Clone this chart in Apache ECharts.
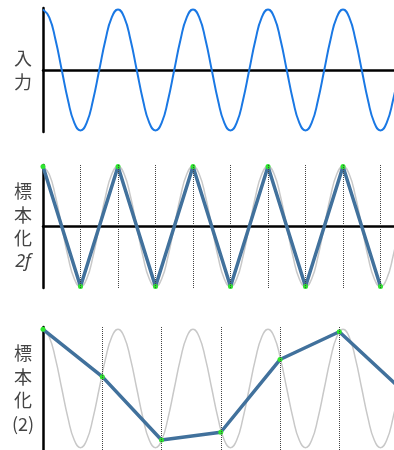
<!DOCTYPE html>
<html>
<head>
<meta charset="utf-8">
<script src="https://cdn.jsdelivr.net/npm/echarts@6/dist/echarts.min.js"></script>
<style>
  html, body { margin: 0; padding: 0; background: #fff; }
  #chart { width: 394px; height: 450px; }
</style>
</head>
<body>
<div id="chart"></div>
<script>
// input signal, read every 1/12 of a period (x in periods of the input)
var waveStep = 1 / 12;
var waveY = [
    1, 0.87, 0.5, 0, -0.5, -0.87, -1, -0.87, -0.5, 0, 0.5, 0.87,
    1, 0.87, 0.5, 0, -0.5, -0.87, -1, -0.87, -0.5, 0, 0.5, 0.87,
    1, 0.87, 0.5, 0, -0.5, -0.87, -1, -0.87, -0.5, 0, 0.5, 0.87,
    1, 0.87, 0.5, 0, -0.5, -0.87, -1, -0.87, -0.5, 0, 0.5, 0.87,
    1, 0.87, 0.5, 0, -0.5, -0.87, -1, -0.87, -0.5, 0
];

// sampled at 2f
var samplesX2f = [0, 0.5, 1, 1.5, 2, 2.5, 3, 3.5, 4, 4.5];
var samplesY2f = [1, -1, 1, -1, 1, -1, 1, -1, 1, -1];

// sampled at a lower rate
var samplesXlow = [0, 0.79, 1.58, 2.37, 3.16, 3.95, 4.74];
var samplesYlow = [1, 0.2, -0.87, -0.74, 0.49, 0.96, 0.03];

var labels = ['入\n力', '標\n本\n化\n{i|2f}', '標\n本\n化\n(2)'];

var wave = waveY.map(function (v, i) { return [i * waveStep, v]; });
function pairs(xs, ys) { return xs.map(function (x, i) { return [x, ys[i]]; }); }

var grids = [
    { left: 43, right: 0, top: 8, height: 124 },
    { left: 43, right: 0, top: 165, height: 123 },
    { left: 43, right: 0, top: 327, height: 123 }
];

var xAxes = grids.map(function (g, i) {
    return {
        type: 'value', gridIndex: i, min: 0, max: 4.68,
        axisLine: { show: i < 2, onZero: true, lineStyle: { color: '#000', width: 2.5 } },
        axisTick: { show: false }, axisLabel: { show: false }, splitLine: { show: false }
    };
});

var yAxes = grids.map(function (g, i) {
    var lim = i < 2 ? 1.025 : 1.04;
    return {
        type: 'value', gridIndex: i, min: -lim, max: lim,
        name: labels[i], nameLocation: 'middle', nameRotate: 0, nameGap: 20,
        nameTextStyle: {
            fontFamily: 'Noto Sans CJK JP', fontSize: 18, color: '#444',
            lineHeight: 23.5, align: 'center',
            rich: { i: { fontStyle: 'italic', fontFamily: 'Noto Sans', fontSize: 18, color: '#444', lineHeight: 23.5 } }
        },
        axisLine: { show: true, lineStyle: { color: '#000', width: 2.5 } },
        axisTick: { show: false }, axisLabel: { show: false }, splitLine: { show: false }
    };
});

function grayWave(i) {
    return {
        type: 'line', xAxisIndex: i, yAxisIndex: i, data: wave, smooth: true,
        showSymbol: false, silent: true, z: 1,
        lineStyle: { color: '#c8c8c8', width: 1.5 }
    };
}

function sampled(i, xs, ys) {
    return {
        type: 'line', xAxisIndex: i, yAxisIndex: i, data: pairs(xs, ys),
        symbol: 'circle', symbolSize: 5, z: 3,
        itemStyle: { color: '#2ee62e' },
        lineStyle: { color: '#41719c', width: 3.5 },
        markLine: {
            silent: true, symbol: 'none', label: { show: false },
            lineStyle: { color: '#444', type: 'dotted', width: 1 },
            data: xs.slice(1).map(function (x) { return { xAxis: x }; })
        }
    };
}

var option = {
    animation: false,
    grid: grids,
    xAxis: xAxes,
    yAxis: yAxes,
    series: [
        {
            type: 'line', xAxisIndex: 0, yAxisIndex: 0, data: wave, smooth: true,
            showSymbol: false, lineStyle: { color: '#1a78e4', width: 2 }
        },
        grayWave(1),
        sampled(1, samplesX2f, samplesY2f),
        grayWave(2),
        sampled(2, samplesXlow, samplesYlow)
    ]
};

var chart = echarts.init(document.getElementById('chart'));
chart.setOption(option);
</script>
</body>
</html>
